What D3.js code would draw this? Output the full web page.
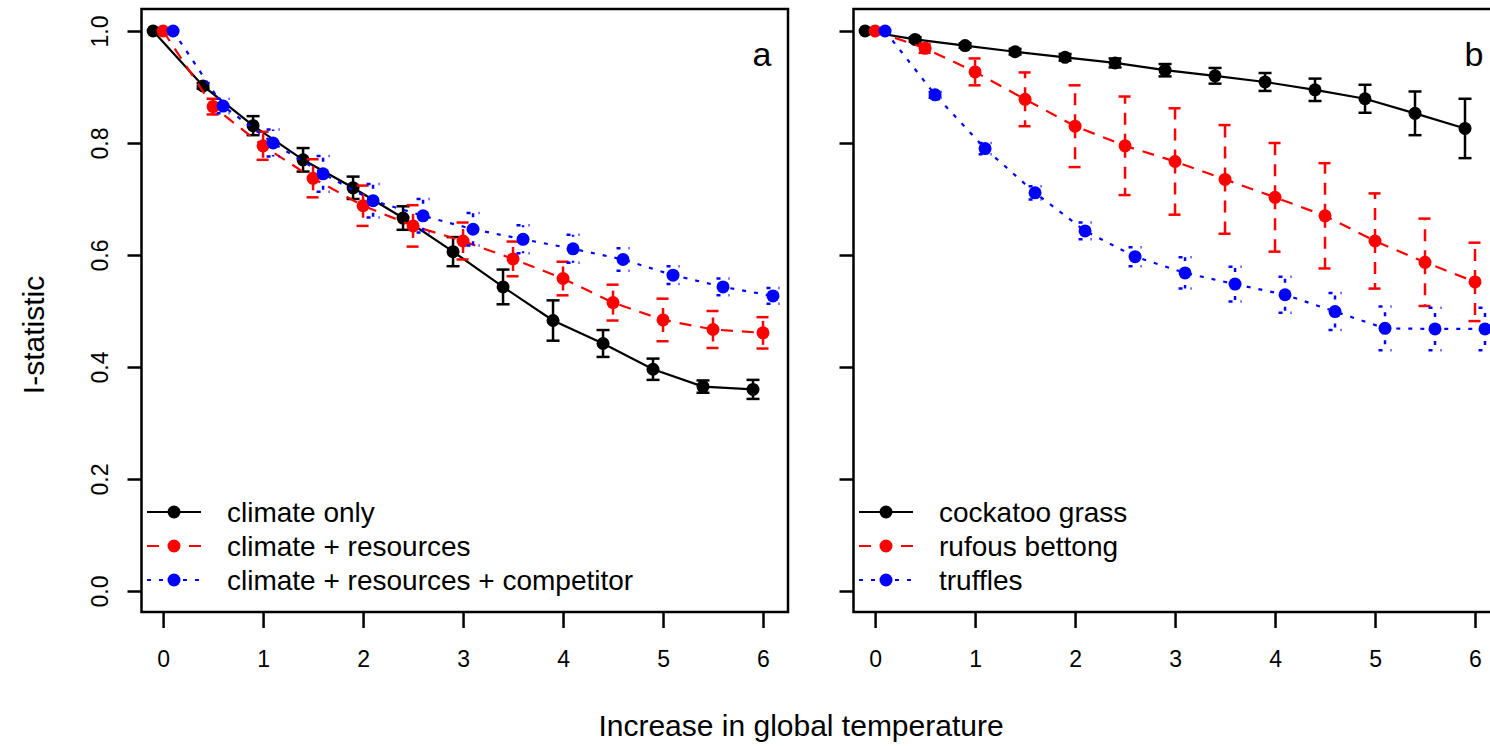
<!DOCTYPE html>
<html>
<head>
<meta charset="utf-8">
<script src="https://cdn.jsdelivr.net/npm/d3@7"></script>
<style>
  body { margin: 0; background: #fff; }
  svg { display: block; }
  text { font-family: "Liberation Sans", Arial, sans-serif; fill: #000; }
</style>
</head>
<body>
<svg id="chart" width="1490" height="746"></svg>
<script>
// Warming steps (degrees of global temperature increase)
const temperatures = [0, 0.5, 1, 1.5, 2, 2.5, 3, 3.5, 4, 4.5, 5, 5.5, 6];
const xTickValues = [0, 1, 2, 3, 4, 5, 6];
const yTickValues = [0, 0.2, 0.4, 0.6, 0.8, 1.0];

// Panel a: model structure
const climateOnly      = [1.000, 0.902, 0.831, 0.770, 0.720, 0.666, 0.606, 0.543, 0.483, 0.442, 0.396, 0.365, 0.360];
const climateOnlySE    = [0.000, 0.005, 0.017, 0.021, 0.020, 0.021, 0.026, 0.031, 0.036, 0.024, 0.019, 0.011, 0.017];
const climateRes       = [1.000, 0.865, 0.795, 0.737, 0.688, 0.652, 0.625, 0.593, 0.558, 0.515, 0.484, 0.467, 0.461];
const climateResSE     = [0.000, 0.014, 0.025, 0.034, 0.036, 0.037, 0.033, 0.031, 0.030, 0.032, 0.038, 0.033, 0.028];
const climateResComp   = [1.000, 0.866, 0.800, 0.745, 0.697, 0.670, 0.646, 0.628, 0.611, 0.592, 0.564, 0.543, 0.527];
const climateResCompSE = [0.000, 0.013, 0.024, 0.032, 0.030, 0.030, 0.029, 0.025, 0.025, 0.020, 0.016, 0.015, 0.014];

// Panel b: species
const cockatooGrass    = [1.000, 0.985, 0.974, 0.963, 0.953, 0.943, 0.930, 0.920, 0.909, 0.895, 0.879, 0.853, 0.826];
const cockatooGrassSE  = [0.000, 0.004, 0.004, 0.005, 0.006, 0.008, 0.011, 0.014, 0.016, 0.020, 0.025, 0.039, 0.053];
const rufousBettong    = [1.000, 0.969, 0.927, 0.878, 0.830, 0.795, 0.767, 0.735, 0.703, 0.670, 0.625, 0.587, 0.552];
const rufousBettongSE  = [0.000, 0.008, 0.024, 0.048, 0.073, 0.088, 0.095, 0.097, 0.097, 0.094, 0.085, 0.078, 0.070];
const truffles         = [1.000, 0.886, 0.790, 0.711, 0.643, 0.597, 0.568, 0.548, 0.529, 0.499, 0.469, 0.468, 0.468];
const trufflesSE       = [0.000, 0.005, 0.010, 0.012, 0.015, 0.017, 0.028, 0.031, 0.032, 0.033, 0.039, 0.038, 0.038];

const seriesStyles = [
  { color: "#000000", dash: null,    shift: -0.1 },
  { color: "#ff0000", dash: "12,9",  shift: 0 },
  { color: "#0000ff", dash: "4,8",   shift: 0.1 }
];

const panels = [
  { letter: "a", left: 141.5,
    series: [
      { name: "climate only", values: climateOnly, se: climateOnlySE },
      { name: "climate + resources", values: climateRes, se: climateResSE },
      { name: "climate + resources + competitor", values: climateResComp, se: climateResCompSE }
    ] },
  { letter: "b", left: 853.5,
    series: [
      { name: "cockatoo grass", values: cockatooGrass, se: cockatooGrassSE },
      { name: "rufous bettong", values: rufousBettong, se: rufousBettongSE },
      { name: "truffles", values: truffles, se: trufflesSE }
    ] }
];

const svg = d3.select("#chart");
svg.append("rect").attr("width", 1490).attr("height", 746).attr("fill", "#fff");

const plotTop = 9, plotBottom = 612, plotWidth = 646.5;
const y = d3.scaleLinear().domain([-0.0375, 1.0393]).range([plotBottom, plotTop]);
const pointR = 6.5, capHalf = 6.5;

panels.forEach(panel => {
  const x = d3.scaleLinear().domain([-0.216, 6.25]).range([panel.left, panel.left + plotWidth]);
  const g = svg.append("g");

  // x axis
  const xAxis = g.append("g")
    .attr("transform", `translate(0,${plotBottom})`)
    .call(d3.axisBottom(x).tickValues(xTickValues).tickSize(16).tickPadding(23).tickFormat(d3.format("d")));
  xAxis.select(".domain").remove();
  xAxis.selectAll("line").attr("stroke", "#000").attr("stroke-width", 2.5);
  xAxis.selectAll("text").attr("font-size", 23).attr("fill", "#000")
    .style("font-family", '"Liberation Sans", Arial, sans-serif');

  // y axis
  const yAxis = g.append("g")
    .attr("transform", `translate(${panel.left},0)`)
    .call(d3.axisLeft(y).tickValues(yTickValues).tickSize(14).tickFormat(d3.format(".1f")));
  yAxis.select(".domain").remove();
  yAxis.selectAll("line").attr("stroke", "#000").attr("stroke-width", 2.5);
  if (panel.letter === "a") {
    yAxis.selectAll("text")
      .attr("font-size", 23).attr("fill", "#000")
      .style("font-family", '"Liberation Sans", Arial, sans-serif')
      .attr("text-anchor", "middle")
      .attr("transform", "rotate(-90)")
      .attr("x", 0).attr("y", -33.5).attr("dy", null);
  } else {
    yAxis.selectAll("text").remove();
  }

  // plot frame
  g.append("rect")
    .attr("x", panel.left).attr("y", plotTop)
    .attr("width", plotWidth).attr("height", plotBottom - plotTop)
    .attr("fill", "none").attr("stroke", "#000").attr("stroke-width", 2.5);

  // panel letter
  g.append("text")
    .attr("x", x(6) - 1).attr("y", 66)
    .attr("text-anchor", "middle")
    .attr("font-size", 34)
    .text(panel.letter);

  const line = d3.line().x(d => x(d.t)).y(d => y(d.v));

  panel.series.forEach((s, i) => {
    const st = seriesStyles[i];
    const pts = temperatures.map((t, k) => ({ t: t + st.shift, v: s.values[k], e: s.se[k] }));
    const sg = g.append("g");

    sg.append("path")
      .datum(pts)
      .attr("d", line)
      .attr("fill", "none")
      .attr("stroke", st.color)
      .attr("stroke-width", 2.2)
      .attr("stroke-dasharray", st.dash);

    // error bars: one arm up and one arm down, each with a flat cap
    pts.filter(d => d.e > 0).forEach(d => {
      [d.v + d.e, d.v - d.e].forEach(end => {
        const px = x(d.t), py0 = y(d.v), py1 = y(end);
        sg.append("path")
          .attr("d", `M${px},${py0}L${px},${py1}`)
          .attr("fill", "none").attr("stroke", st.color)
          .attr("stroke-width", 2.5).attr("stroke-dasharray", st.dash);
        sg.append("path")
          .attr("d", `M${px - capHalf},${py1}L${px + capHalf},${py1}`)
          .attr("fill", "none").attr("stroke", st.color)
          .attr("stroke-width", 2.5).attr("stroke-dasharray", st.dash);
      });
    });

    sg.selectAll("circle")
      .data(pts)
      .join("circle")
      .attr("cx", d => x(d.t))
      .attr("cy", d => y(d.v))
      .attr("r", pointR)
      .attr("fill", st.color);
  });

  // legend
  const legendRows = [512, 546, 580];
  const lx0 = panel.left + 5.5, lx1 = panel.left + 59.5, lpx = panel.left + 32.5, ltx = panel.left + 85.5;
  panel.series.forEach((s, i) => {
    const st = seriesStyles[i];
    const ly = legendRows[i];
    g.append("line")
      .attr("x1", lx0).attr("x2", lx1).attr("y1", ly).attr("y2", ly)
      .attr("stroke", st.color).attr("stroke-width", 2.2)
      .attr("stroke-dasharray", st.dash);
    g.append("circle").attr("cx", lpx).attr("cy", ly).attr("r", pointR).attr("fill", st.color);
    g.append("text")
      .attr("x", ltx).attr("y", ly)
      .attr("dy", "0.35em")
      .attr("font-size", 28)
      .text(s.name);
  });
});

// shared axis titles
svg.append("text")
  .attr("x", 801).attr("y", 736)
  .attr("text-anchor", "middle")
  .attr("font-size", 30)
  .text("Increase in global temperature");

svg.append("text")
  .attr("transform", "translate(44,335) rotate(-90)")
  .attr("text-anchor", "middle")
  .attr("font-size", 30)
  .text("I-statistic");
</script>
</body>
</html>
